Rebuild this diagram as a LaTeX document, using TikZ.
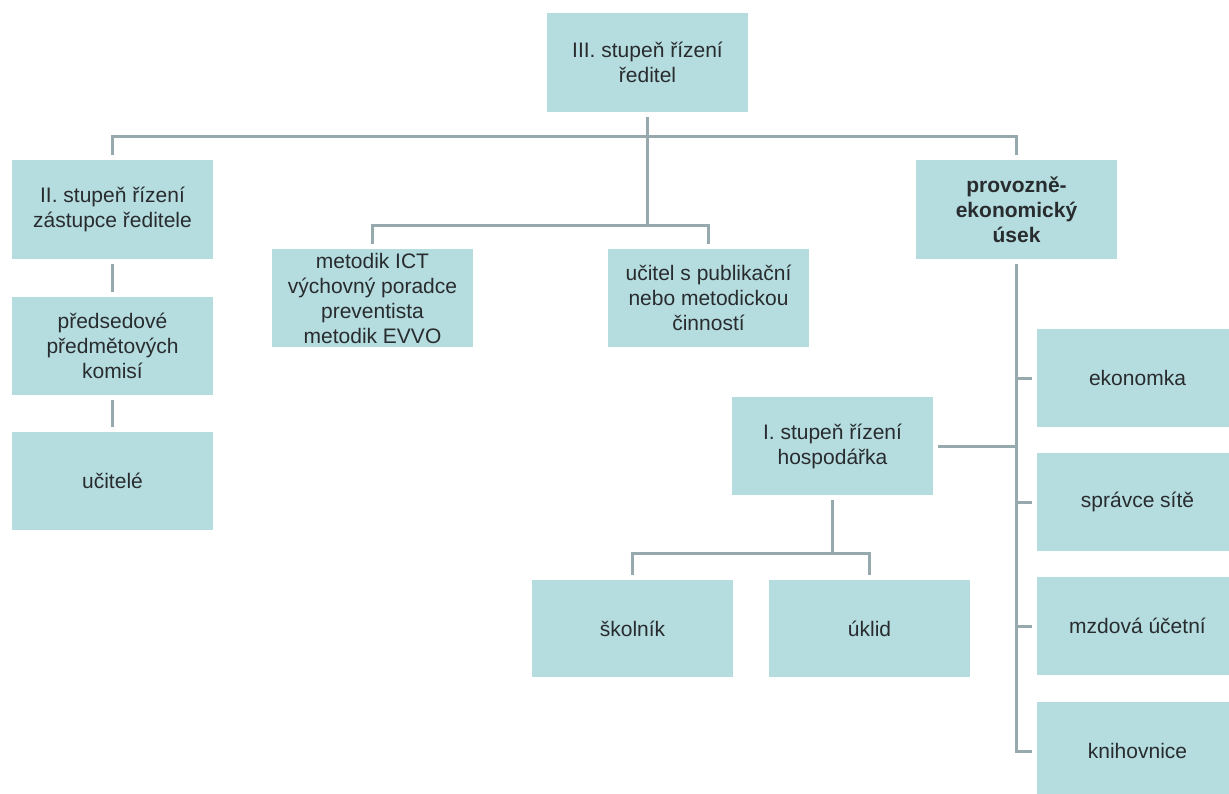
\documentclass[tikz,border=0pt]{standalone}
\usepackage{fontspec}
\setmainfont{Liberation Sans}
\definecolor{boxfill}{RGB}{181,220,223}
\definecolor{linecol}{RGB}{150,170,173}
\definecolor{txt}{RGB}{40,44,46}
\begin{document}
\begin{tikzpicture}[x=1pt,y=-1pt,
  orgbox/.style={rectangle, fill=boxfill, draw=none, minimum width=201pt, minimum height=98pt,
    inner sep=0pt, align=center, text=txt, font=\fontsize{21}{25}\selectfont},
  conn/.style={draw=linecol, line width=3pt},
  gap/.style={shorten <=5pt, shorten >=5pt},
  gapA/.style={shorten <=5pt},
  gapB/.style={shorten >=5pt}]
\clip (0,0) rectangle (1229,793);
\fill[white] (0,0) rectangle (1229,793);
% nodes
\node[orgbox, minimum height=99pt] (top) at (647.5,62.5) {III. stupeň řízení\\ředitel};
\node[orgbox, minimum height=99pt] (II) at (112.5,209.5) {II. stupeň řízení\\zástupce ředitele};
\node[orgbox] (pred) at (112.5,346) {předsedové\\předmětových\\komisí};
\node[orgbox] (ucitele) at (112.5,481) {učitelé};
\node[orgbox] (metodik) at (372.5,298) {metodik ICT\\výchovný poradce\\preventista\\metodik EVVO};
\node[orgbox] (pub) at (708.5,298) {učitel s publikační\\nebo metodickou\\činností};
\node[orgbox, minimum height=99pt, font=\fontsize{21}{25}\selectfont\bfseries] (prov) at (1016.5,209.5) {provozně-\\ekonomický\\úsek};
\node[orgbox] (eko) at (1137.5,378) {ekonomka};
\node[orgbox] (spr) at (1137.5,502) {správce sítě};
\node[orgbox] (mzd) at (1137.5,626) {mzdová účetní};
\node[orgbox] (kni) at (1137.5,751) {knihovnice};
\node[orgbox] (I) at (832.5,446) {I. stupeň řízení\\hospodářka};
\node[orgbox, minimum height=97pt] (skol) at (632.5,628.5) {školník};
\node[orgbox, minimum height=97pt] (uklid) at (869.5,628.5) {úklid};
% bus levels
\coordinate (bus1) at (0,136);
\coordinate (bus2) at (0,225);
\coordinate (bus3) at (0,553);
% connectors
\draw[conn, gapA] (top.south) -- (top.south |- bus2);
\draw[conn, gap] (II.north) -- (II.north |- bus1) -- (prov.north |- bus1) -- (prov.north);
\draw[conn, gap] (metodik.north) -- (metodik.north |- bus2) -- (pub.north |- bus2) -- (pub.north);
\draw[conn, gap] (II.south) -- (pred.north);
\draw[conn, gap] (pred.south) -- (ucitele.north);
\draw[conn, gap] (prov.south) |- (kni.west);
\draw[conn, gapB] (eko.west -| prov.south) -- (eko.west);
\draw[conn, gapB] (spr.west -| prov.south) -- (spr.west);
\draw[conn, gapB] (mzd.west -| prov.south) -- (mzd.west);
\draw[conn, gapA] (I.east) -- (I.east -| prov.south);
\draw[conn, gapA] (I.south) -- (I.south |- bus3);
\draw[conn, gap] (skol.north) -- (skol.north |- bus3) -- (uklid.north |- bus3) -- (uklid.north);
\end{tikzpicture}
\end{document}
